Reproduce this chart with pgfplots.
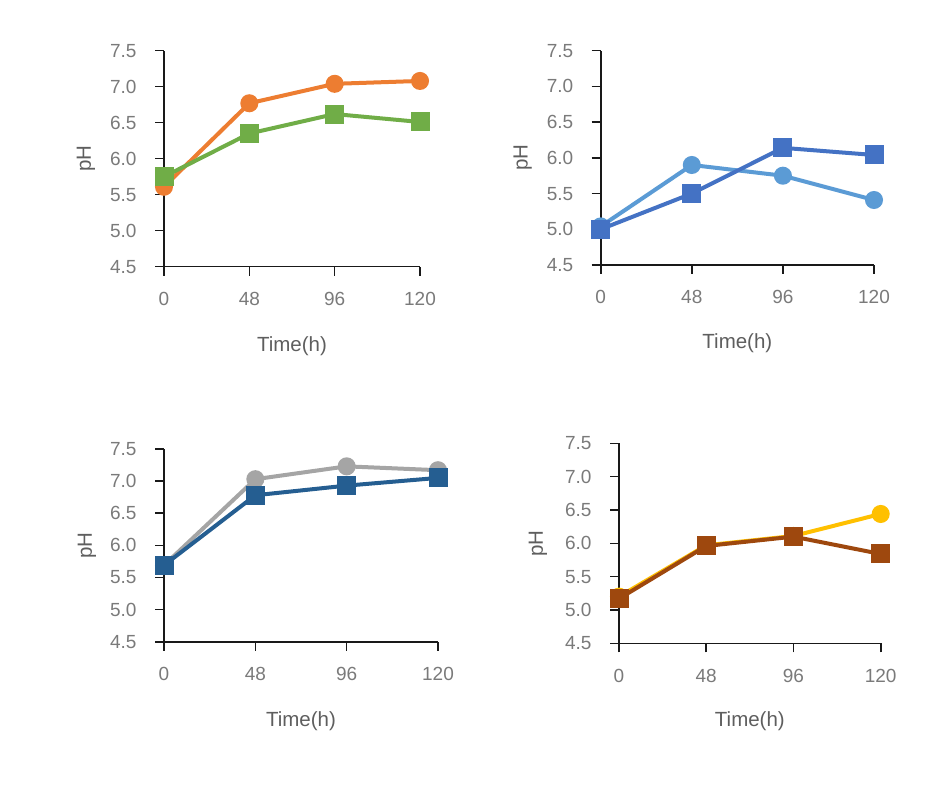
\documentclass[border=0pt]{standalone}
\usepackage{fontspec}
\setmainfont{Liberation Sans}
\usepackage{pgfplots}
\pgfplotsset{compat=1.18}
\definecolor{cOrange}{HTML}{ED7D31}
\definecolor{cGreen}{HTML}{70AD47}
\definecolor{cLBlue}{HTML}{5B9BD5}
\definecolor{cBlue}{HTML}{4472C4}
\definecolor{cGray}{HTML}{A5A5A5}
\definecolor{cDBlue}{HTML}{255E91}
\definecolor{cYellow}{HTML}{FFC000}
\definecolor{cBrown}{HTML}{9E480E}
\definecolor{tickgray}{HTML}{7A7A7A}
\definecolor{labgray}{HTML}{5E5E5E}
\pgfplotsset{
  panel/.style={
    scale only axis, anchor=south west, clip=false,
    axis x line=bottom, axis y line=left,
    axis line style={-, line width=1.6pt, black!90},
    tick align=outside, major tick length=9pt,
    tick style={line width=1.6pt, black!90},
    xmin=0, xmax=3, ymin=4.5, ymax=7.5,
    xtick={0,1,2,3}, xticklabels={0,48,96,120},
    ytick={4.5,5.0,5.5,6.0,6.5,7.0,7.5},
    /pgf/number format/fixed, /pgf/number format/fixed zerofill,
    /pgf/number format/precision=1,
    /pgf/number format/assume math mode=true,
    ticklabel style={font=\fontsize{19}{21}\selectfont, text=tickgray},
    xticklabel style={yshift=-13pt},
    yticklabel style={xshift=-15pt},
    label style={font=\fontsize{20.5}{23}\selectfont, text=labgray},
    xlabel={Time(h)}, ylabel={pH},
  },
  ser/.style={line width=4pt},
  circ/.style={mark=*, mark size=7pt},
  sq/.style={mark=square*, mark size=7.5pt},
}
\begin{document}
\begin{tikzpicture}
\path (0,0) rectangle (933pt,793pt);
% Top-left
\begin{axis}[panel, at={(164pt,526.3pt)}, width=256pt, height=216pt,
  xlabel style={at={(axis description cs:0.5,-0.37)}, anchor=center},
  ylabel style={at={(axis description cs:-0.305,0.5)}, anchor=center}]
\addplot[ser, color=cOrange, circ] coordinates {(0,5.61) (1,6.77) (2,7.04) (3,7.08)};
\addplot[ser, color=cGreen, sq] coordinates {(0,5.75) (1,6.35) (2,6.62) (3,6.51)};
\end{axis}
% Top-right
\begin{axis}[panel, at={(600.7pt,528pt)}, width=273.3pt, height=214.3pt,
  xlabel style={at={(axis description cs:0.5,-0.364)}, anchor=center},
  ylabel style={at={(axis description cs:-0.285,0.5)}, anchor=center}]
\addplot[ser, color=cLBlue, circ] coordinates {(0,5.04) (1,5.90) (2,5.75) (3,5.41)};
\addplot[ser, color=cBlue, sq] coordinates {(0,5.00) (1,5.50) (2,6.14) (3,6.04)};
\end{axis}
% Bottom-left
\begin{axis}[panel, at={(164pt,151.3pt)}, width=274pt, height=192.7pt,
  xlabel style={at={(axis description cs:0.5,-0.415)}, anchor=center},
  ylabel style={at={(axis description cs:-0.281,0.5)}, anchor=center}]
\addplot[ser, color=cGray, circ] coordinates {(0,5.69) (1,7.03) (2,7.23) (3,7.17)};
\addplot[ser, color=cDBlue, sq] coordinates {(0,5.69) (1,6.78) (2,6.93) (3,7.05)};
\end{axis}
% Bottom-right
\begin{axis}[panel, at={(619pt,149.7pt)}, width=261.7pt, height=200pt,
  xlabel style={at={(axis description cs:0.5,-0.39)}, anchor=center},
  ylabel style={at={(axis description cs:-0.31,0.5)}, anchor=center}]
\addplot[ser, color=cYellow, circ] coordinates {(0,5.20) (1,5.97) (2,6.11) (3,6.44)};
\addplot[ser, color=cBrown, sq] coordinates {(0,5.17) (1,5.96) (2,6.10) (3,5.84)};
\end{axis}
\end{tikzpicture}
\end{document}
